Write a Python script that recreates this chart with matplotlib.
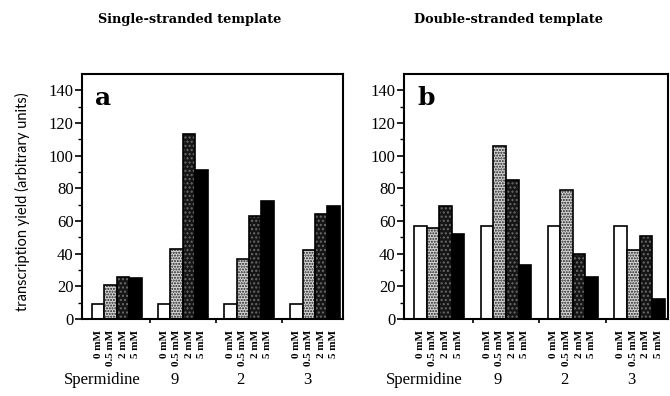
import matplotlib.pyplot as plt
import matplotlib.transforms as mtransforms
import numpy as np

# datos
concentraciones = ['0 mM', '0.5 mM', '2 mM', '5 mM']
grupos = ['Spermidine', '9', '2', '3']
titulos = ['Single-stranded template', 'Double-stranded template']
letras = ['a', 'b']

rendimiento_ss = [[9, 21, 26, 25],
                  [9, 43, 113, 91],
                  [9, 37, 63, 72],
                  [9, 42, 64, 69]]
rendimiento_ds = [[57, 56, 69, 52],
                  [57, 106, 85, 33],
                  [57, 79, 40, 26],
                  [57, 42, 51, 12]]

paso = 5.3
ancho = 1.0

fig = plt.figure(figsize=(6.70, 3.96), dpi=100)
ax_a = fig.add_axes([0.1224, 0.1944, 0.3896, 0.6187])
ax_b = fig.add_axes([0.603, 0.1944, 0.394, 0.6187])

serif = 'Liberation Serif'
serif_neg = 'DejaVu Serif'

for ax, datos, titulo, letra, xt in zip([ax_a, ax_b], [rendimiento_ss, rendimiento_ds],
                                         titulos, letras, [0.283, 0.759]):
    centros = []
    for g, valores in enumerate(datos):
        inicio = g * paso
        for i, v in enumerate(valores):
            x = inicio + i * ancho
            centros.append(x + ancho / 2)
            if i == 0:
                ax.bar(x, v, width=ancho, align='edge', facecolor='white',
                       edgecolor='black', linewidth=1.2, zorder=2)
            elif i == 1:
                ax.bar(x, v, width=ancho, align='edge', facecolor='#d4d4d4',
                       edgecolor='#202020', hatch='......', linewidth=0, zorder=2)
                ax.bar(x, v, width=ancho, align='edge', fill=False,
                       edgecolor='black', linewidth=1.2, zorder=3)
            elif i == 2:
                ax.bar(x, v, width=ancho, align='edge', facecolor='#151515',
                       edgecolor='#6a6a6a', hatch='....', linewidth=0, zorder=2)
                ax.bar(x, v, width=ancho, align='edge', fill=False,
                       edgecolor='black', linewidth=1.2, zorder=3)
            else:
                ax.bar(x, v, width=ancho, align='edge', facecolor='black',
                       edgecolor='black', linewidth=1.2, zorder=2)

    ax.set_xlim(-0.8, 3 * paso + 4 * ancho + 0.25)
    ax.set_ylim(0, 150)
    ax.set_yticks(np.arange(0, 141, 20))
    ax.set_yticks(np.arange(0, 150, 10), minor=True)
    ax.set_xticks(centros)
    ax.set_xticklabels(concentraciones * 4, rotation=90, fontsize=8,
                       fontweight='bold', family=serif)
    ax.set_xticks([g * paso - (paso - 4) / 2 for g in range(1, 4)], minor=True)
    ax.tick_params(axis='x', which='major', length=0, pad=8)
    ax.tick_params(axis='x', which='minor', length=3, width=1.2, direction='out')
    ax.tick_params(axis='y', which='major', length=5, width=1.2, direction='out',
                   labelsize=12, pad=1)
    ax.tick_params(axis='y', which='minor', length=3, width=1, direction='out')
    for lab in ax.get_yticklabels():
        lab.set_family(serif)
    for s in ax.spines.values():
        s.set_linewidth(1.5)

    ax.text(0.05, 0.875, letra, transform=ax.transAxes, fontsize=18,
            fontweight='bold', family=serif_neg, va='baseline')
    fig.text(xt, 0.952, titulo, ha='center', va='center', fontsize=9.3,
             fontweight='bold', family=serif_neg)

    # fila inferior: Spermidine 9 2 3
    trans = mtransforms.blended_transform_factory(ax.transData, fig.transFigure)
    ax.text(0.8, 0.03, grupos[0], transform=trans, ha='center', va='baseline',
            fontsize=12, family=serif)
    for g in range(1, 4):
        ax.text(g * paso + 1.35, 0.03, grupos[g], transform=trans, ha='center',
                va='baseline', fontsize=12, family=serif)

fig.text(0.033, 0.49, 'transcription yield (arbitrary units)', rotation=90,
         ha='center', va='center', fontsize=10.5, family='Lato')

plt.savefig('out.png', dpi=100)
